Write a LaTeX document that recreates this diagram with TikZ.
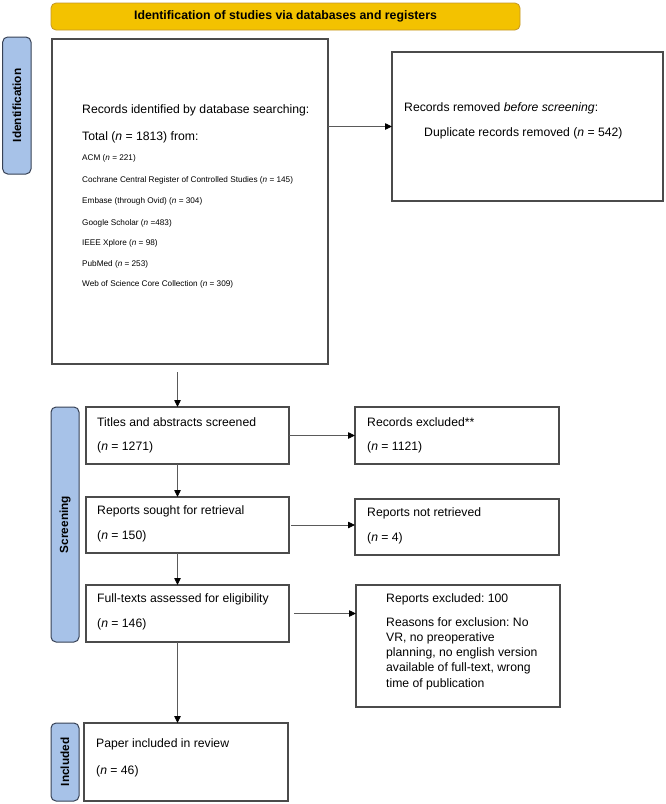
\documentclass[tikz,border=0pt]{standalone}
\usepackage{fontspec}
\setmainfont{Liberation Sans}
\usetikzlibrary{arrows.meta}
\definecolor{hdrfill}{RGB}{243,194,0}
\definecolor{hdrline}{RGB}{196,150,40}
\definecolor{labfill}{RGB}{167,194,232}
\definecolor{labline}{RGB}{55,65,85}
\definecolor{boxline}{RGB}{75,75,75}
\definecolor{arrline}{RGB}{90,90,90}
\frenchspacing
\begin{document}
\begin{tikzpicture}[x=1pt,y=-1pt,
  pbox/.style={draw=boxline, line width=1.2pt, fill=white, inner sep=0pt, outer sep=0pt, anchor=north west},
  side/.style={draw=labline, line width=1pt, fill=labfill, rounded corners=5pt, inner sep=0pt, rotate=90,
     font=\fontsize{11.8}{13}\selectfont\bfseries},
  hdrbox/.style={draw=hdrline, line width=0.8pt, fill=hdrfill, rounded corners=5pt, inner sep=0pt,
     font=\fontsize{12.3}{14}\selectfont\bfseries},
  txt/.style={anchor=west, inner sep=0pt, font=\fontsize{12.2}{15.3}\selectfont},
  small/.style={anchor=west, inner sep=0pt, font=\fontsize{8.2}{10}\selectfont},
  arr/.style={draw=arrline, line width=0.8pt, -{Triangle[length=7pt,width=6.5pt,color=black]}}
]
\useasboundingbox (0,0) rectangle (666,804);

% header
\node[hdrbox, minimum width=469pt, minimum height=27pt] (hdr) at (285.5,16.5) {Identification of studies via databases and registers};

% side labels
\node[side, minimum width=137pt, minimum height=28.3pt] (idlab) at (16.85,105.5) {Identification};
\node[side, minimum width=235pt, minimum height=28pt] (sclab) at (65,524.5) {Screening};
\node[side, minimum width=78pt, minimum height=28pt] (inlab) at (65,762) {Included};

% identification boxes
\node[pbox, minimum width=276pt, minimum height=325pt] (records) at (52,39) {};
\node[txt] (r1) at (82,110) {Records identified by database searching:};
\node[txt] (r2) at (82,137) {Total (\textit{n} = 1813) from:};
\node[small] (r3) at (82,158.5) {ACM (\textit{n} = 221)};
\node[small] (r4) at (82,180) {Cochrane Central Register of Controlled Studies (\textit{n} = 145)};
\node[small] (r5) at (82,201.5) {Embase (through Ovid) (\textit{n} = 304)};
\node[small] (r6) at (82,223) {Google Scholar (\textit{n} =483)};
\node[small] (r7) at (82,243.5) {IEEE Xplore (\textit{n} = 98)};
\node[small] (r8) at (82,264) {PubMed (\textit{n} = 253)};
\node[small] (r9) at (82,284.5) {Web of Science Core Collection (\textit{n} = 309)};

\node[pbox, minimum width=271pt, minimum height=149pt] (removed) at (392,52) {};
\node[txt] (m1) at (404,108) {Records removed \textit{before screening}:};
\node[txt] (m2) at (424,133) {Duplicate records removed (\textit{n} = 542)};

% screening boxes
\node[pbox, minimum width=203pt, minimum height=57pt] (titles) at (86,407) {};
\node[txt] (t1) at (97,422) {Titles and abstracts screened};
\node[txt] (t2) at (97,447) {(\textit{n} = 1271)};

\node[pbox, minimum width=204pt, minimum height=57pt] (excl) at (355,407) {};
\node[txt] (e1) at (367,422) {Records excluded**};
\node[txt] (e2) at (367,447) {(\textit{n} = 1121)};

\node[pbox, minimum width=203pt, minimum height=56pt] (sought) at (86,497) {};
\node[txt] (s1) at (97,511) {Reports sought for retrieval};
\node[txt] (s2) at (97,536) {(\textit{n} = 150)};

\node[pbox, minimum width=204pt, minimum height=56pt] (notret) at (355,499) {};
\node[txt] (n1) at (367,513) {Reports not retrieved};
\node[txt] (n2) at (367,538) {(\textit{n} = 4)};

\node[pbox, minimum width=203pt, minimum height=57pt] (full) at (86,585) {};
\node[txt] (f1) at (97,599) {Full-texts assessed for eligibility};
\node[txt] (f2) at (97,624) {(\textit{n} = 146)};

\node[pbox, minimum width=204pt, minimum height=122pt] (rexcl) at (356,585) {};
\node[txt] (x1) at (386,599) {Reports excluded: 100};
\node[txt, anchor=north west, align=left] (x2) at (386,617) {Reasons for exclusion: No\\VR, no preoperative\\planning, no english version\\available of full-text, wrong\\time of publication};

% included
\node[pbox, minimum width=204pt, minimum height=78pt] (paper) at (84,723) {};
\node[txt] (p1) at (96,744) {Paper included in review};
\node[txt] (p2) at (96,771) {(\textit{n} = 46)};

% connectors
\draw[arr] (records.east |- removed.west) -- (removed.west);
\coordinate (ra) at ([xshift=-12.5pt]records.south);
\draw[arr, shorten <=8pt] (ra) -- (ra |- titles.north);
\draw[arr] (titles.east) -- (excl.west);
\coordinate (ta) at ([xshift=-10pt]titles.south);
\draw[arr] (ta) -- (ta |- sought.north);
\draw[arr, shorten <=2pt] (sought.east) -- (sought.east -| notret.west);
\coordinate (sa) at ([xshift=-10pt]sought.south);
\draw[arr] (sa) -- (sa |- full.north);
\draw[arr, shorten <=5pt] (full.east) -- (full.east -| rexcl.west);
\coordinate (fa) at ([xshift=-10pt]full.south);
\draw[arr] (fa) -- (fa |- paper.north);
\end{tikzpicture}
\end{document}
